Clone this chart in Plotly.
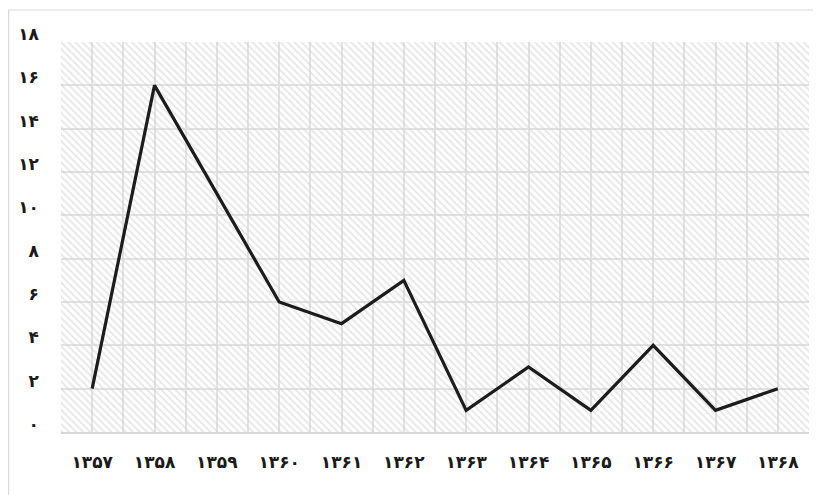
import plotly.graph_objects as go

years = ["۱۳۵۷", "۱۳۵۸", "۱۳۵۹", "۱۳۶۰", "۱۳۶۱", "۱۳۶۲", "۱۳۶۳", "۱۳۶۴", "۱۳۶۵", "۱۳۶۶", "۱۳۶۷", "۱۳۶۸"]
values = [2, 16, 11, 6, 5, 7, 1, 3, 1, 4, 1, 2]
ytick_vals = [0, 2, 4, 6, 8, 10, 12, 14, 16, 18]
ytick_text = ["٠", "۲", "۴", "۶", "۸", "۱۰", "۱۲", "۱۴", "۱۶", "۱۸"]

W, H = 813, 487
L, R, T, B = 53, 12, 34, 63
pw = W - L - R
ph = H - T - B

xs = list(range(len(years)))
x_lo, x_hi = -0.5, len(years) - 0.5
y_lo, y_hi = 0, 18
font_fam = "DejaVu Sans, sans-serif"

fig = go.Figure()

# hatched plot background (transparent between stripes so grid shows)
fig.add_trace(go.Scatter(
    x=[x_lo, x_hi, x_hi, x_lo, x_lo], y=[y_lo, y_lo, y_hi, y_hi, y_lo],
    mode="lines", line=dict(width=0), fill="toself",
    fillcolor="rgba(0,0,0,0)",
    fillpattern=dict(shape="\\", fgcolor="#d0d0d0", bgcolor="rgba(0,0,0,0)", size=5, solidity=0.38),
    hoverinfo="skip", showlegend=False,
))

fig.add_trace(go.Scatter(
    x=xs, y=values, mode="lines",
    line=dict(color="#1c1c1c", width=3.2),
    showlegend=False,
))

fig.update_layout(
    width=W, height=H,
    margin=dict(l=L, r=R, t=T, b=B, autoexpand=False),
    paper_bgcolor="white", plot_bgcolor="white",
    xaxis=dict(
        range=[x_lo, x_hi], tickvals=xs, ticktext=years, automargin=False,
        showgrid=True, gridcolor="#e2e2e2", gridwidth=1.5,
        minor=dict(tick0=0.5, dtick=1, showgrid=True, gridcolor="#e2e2e2", gridwidth=1.5, ticks=""),
        zeroline=False, showline=True, linecolor="#d6d6d6", linewidth=2,
        ticks="", ticklabelstandoff=14,
        tickfont=dict(family=font_fam, size=17, color="#1a1a1a", weight="bold"),
    ),
    yaxis=dict(
        range=[y_lo, y_hi], tickvals=ytick_vals, ticktext=ytick_text, automargin=False,
        showgrid=True, gridcolor="#e2e2e2", gridwidth=1.5,
        zeroline=False, showline=False, ticks="", ticklabelstandoff=21,
        ticklabelshift=-8,
        tickfont=dict(family=font_fam, size=17, color="#1a1a1a", weight="bold"),
    ),
    shapes=[
        dict(type="line", xref="paper", yref="paper",
             x0=(0 - L) / pw, x1=(W - L) / pw + 0.01,
             y0=1 + (T - 2) / ph, y1=1 + (T - 2) / ph,
             line=dict(color="#d9d9d9", width=1.2)),
        dict(type="line", xref="paper", yref="paper",
             x0=(0.6 - L) / pw, x1=(0.6 - L) / pw,
             y0=1 + (T - 2) / ph, y1=-(B + 5) / ph,
             line=dict(color="#d9d9d9", width=1.2)),
    ],
)

fig.write_html("out.html")
